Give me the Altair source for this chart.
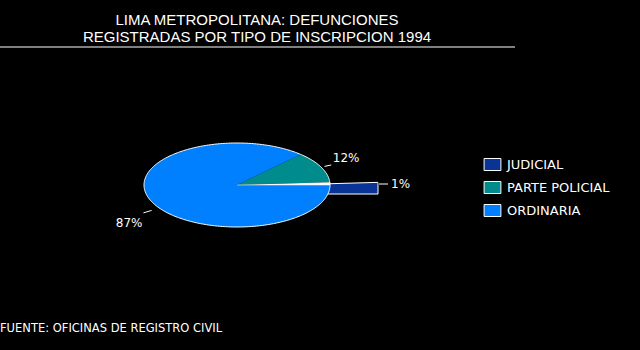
import math
import altair as alt
import pandas as pd

# ---------------- data ----------------
CATEGORIAS = ["JUDICIAL", "PARTE POLICIAL", "ORDINARIA"]
PORCENTAJES = [1, 12, 87]
ETIQUETAS = ["1%", "12%", "87%"]
COLORES = ["#0a3396", "#008c8c", "#0080ff"]
TITULO = ["LIMA METROPOLITANA: DEFUNCIONES",
          "REGISTRADAS POR TIPO DE INSCRIPCION 1994"]
FUENTE = "FUENTE: OFICINAS DE REGISTRO CIVIL"

# ---------------- layout / style ----------------
W, H = 640, 350
CX, CY, RX, RY = 237, 185, 93, 42      # ellipse of the pie
EXPLODE = 48                            # offset of exploded slice
DEPTH = 9                               # visible side of exploded slice
EXPLODED = "JUDICIAL"


def pt(t_deg, k=1.0, dx=0.0):
    t = math.radians(t_deg)
    return CX + dx + k * RX * math.cos(t), CY - k * RY * math.sin(t)


def arc(a0, a1, step=1.0):
    n = max(2, int(math.ceil(abs(a1 - a0) / step)) + 1)
    return [a0 + (a1 - a0) * i / (n - 1) for i in range(n)]


total = float(sum(PORCENTAJES))
angles = {}
acc = 0.0
for c, p in zip(CATEGORIAS, PORCENTAJES):
    angles[c] = (acc, acc + 360.0 * p / total)
    acc += 360.0 * p / total

# slices (polygons)
rows = []
gap_rows = []
block_rows = []
for c in CATEGORIAS:
    a0, a1 = angles[c]
    if c == EXPLODED:
        pts = [(CX + EXPLODE, CY)]
        pts += [pt(t, dx=EXPLODE) for t in arc(a1, a0)]
        xr = pt(a0, dx=EXPLODE)[0]
        pts += [(xr, CY + DEPTH), (CX + EXPLODE, CY + DEPTH)]
        for i, (x, y) in enumerate(pts):
            block_rows.append({"cat": c, "i": i, "x": x, "y": y})
        gpts = [(CX, CY)] + [pt(t) for t in arc(a0, a1)]
        for i, (x, y) in enumerate(gpts):
            gap_rows.append({"cat": c, "i": i, "x": x, "y": y})
    else:
        pts = [(CX, CY)] + [pt(t) for t in arc(a0, a1)]
        for i, (x, y) in enumerate(pts):
            rows.append({"cat": c, "i": i, "x": x, "y": y})

slices = pd.DataFrame(rows)
block = pd.DataFrame(block_rows)
gap = pd.DataFrame(gap_rows)
outline = pd.DataFrame([{"i": i, "x": pt(t)[0], "y": pt(t)[1]}
                        for i, t in enumerate(arc(0, 360))])

# labels with leader lines
LABEL_STYLE = {
    "PARTE POLICIAL": dict(shift=0, k1=1.04, k2=1.12, tdx=1.5, tdy=-3, align="left"),
    "ORDINARIA": dict(shift=10, k1=1.10, k2=1.205, tdx=-1, tdy=14.5, align="right"),
}
lab_rows, lead_rows = [], []
for c, txt in zip(CATEGORIAS, ETIQUETAS):
    a0, a1 = angles[c]
    if c == EXPLODED:
        xr, yr = pt(a0, dx=EXPLODE)
        x1, y1 = xr + 1, CY - 1
        x2, y2 = x1 + 9, y1
        tx, ty, al = x2 + 3, CY + 3, "left"
    else:
        s = LABEL_STYLE[c]
        tm = (a0 + a1) / 2 + s["shift"]
        x1, y1 = pt(tm, s["k1"])
        x2, y2 = pt(tm, s["k2"])
        tx, ty, al = x2 + s["tdx"], y2 + s["tdy"], s["align"]
    lead_rows.append({"x": x1, "y": y1, "x2": x2, "y2": y2})
    lab_rows.append({"x": tx, "y": ty, "text": txt, "align": al})
leaders = pd.DataFrame(lead_rows)
labels = pd.DataFrame(lab_rows)

titles = pd.DataFrame({"x": [257, 257], "y": [24.5, 42], "text": TITULO})
footer = pd.DataFrame({"x": [0], "y": [332], "text": [FUENTE]})
rule = pd.DataFrame({"x": [0], "x2": [515], "y": [47]})

# ---------------- encodings ----------------
xs = alt.Scale(domain=[0, W], nice=False, zero=False)
ys = alt.Scale(domain=[0, H], nice=False, zero=False, reverse=True)
X = alt.X("x:Q", scale=xs, axis=None)
Y = alt.Y("y:Q", scale=ys, axis=None)

fill_enc = alt.Fill(
    "cat:N",
    scale=alt.Scale(domain=CATEGORIAS, range=COLORES),
    legend=alt.Legend(
        title=None, orient="none", legendX=486, legendY=158,
        symbolType="M-1.4,-1H1.4V1H-1.4Z", symbolSize=144,
        symbolStrokeColor="white", symbolStrokeWidth=1, symbolOpacity=1,
        labelColor="white", labelFont="DejaVu Sans", labelFontSize=13,
        labelOffset=8, rowPadding=6, padding=0,
    ),
)

block_layer = alt.Chart(block).mark_line(stroke="white", strokeWidth=1).encode(
    x=X, y=Y, order="i:Q", detail="cat:N", fill=fill_enc)

slice_layer = alt.Chart(slices).mark_line(strokeWidth=0).encode(
    x=X, y=Y, order="i:Q", detail="cat:N", fill=fill_enc)

gap_layer = alt.Chart(gap).mark_line(fill="white", stroke="white", strokeWidth=0.5).encode(
    x=X, y=Y, order="i:Q")

outline_layer = alt.Chart(outline).mark_line(stroke="white", strokeWidth=1).encode(
    x=X, y=Y, order="i:Q")

leader_layer = alt.Chart(leaders).mark_rule(color="white", strokeWidth=1).encode(
    x=X, y=Y, x2="x2:Q", y2="y2:Q")

label_left = alt.Chart(labels).transform_filter("datum.align == 'left'").mark_text(
    color="white", font="DejaVu Sans", fontSize=12, align="left", baseline="alphabetic"
).encode(x=X, y=Y, text="text:N")
label_right = alt.Chart(labels).transform_filter("datum.align == 'right'").mark_text(
    color="white", font="DejaVu Sans", fontSize=12, align="right", baseline="alphabetic"
).encode(x=X, y=Y, text="text:N")

title_layer = alt.Chart(titles).mark_text(
    color="white", font="Liberation Sans", fontSize=15, align="center", baseline="alphabetic"
).encode(x=X, y=Y, text="text:N")

footer_layer = alt.Chart(footer).mark_text(
    color="white", font="DejaVu Sans", fontSize=11.5, align="left", baseline="alphabetic"
).encode(x=X, y=Y, text="text:N")

rule_layer = alt.Chart(rule).mark_rule(color="white", strokeWidth=1).encode(
    x=X, x2="x2:Q", y=Y)

chart = alt.layer(
    block_layer, slice_layer, gap_layer, outline_layer, leader_layer,
    label_left, label_right, title_layer, footer_layer, rule_layer,
).properties(
    width=W, height=H, background="black", padding=0, autosize="none",
).configure_view(stroke=None)

chart.save("out.html", embed_options={"renderer": "svg", "actions": False})
